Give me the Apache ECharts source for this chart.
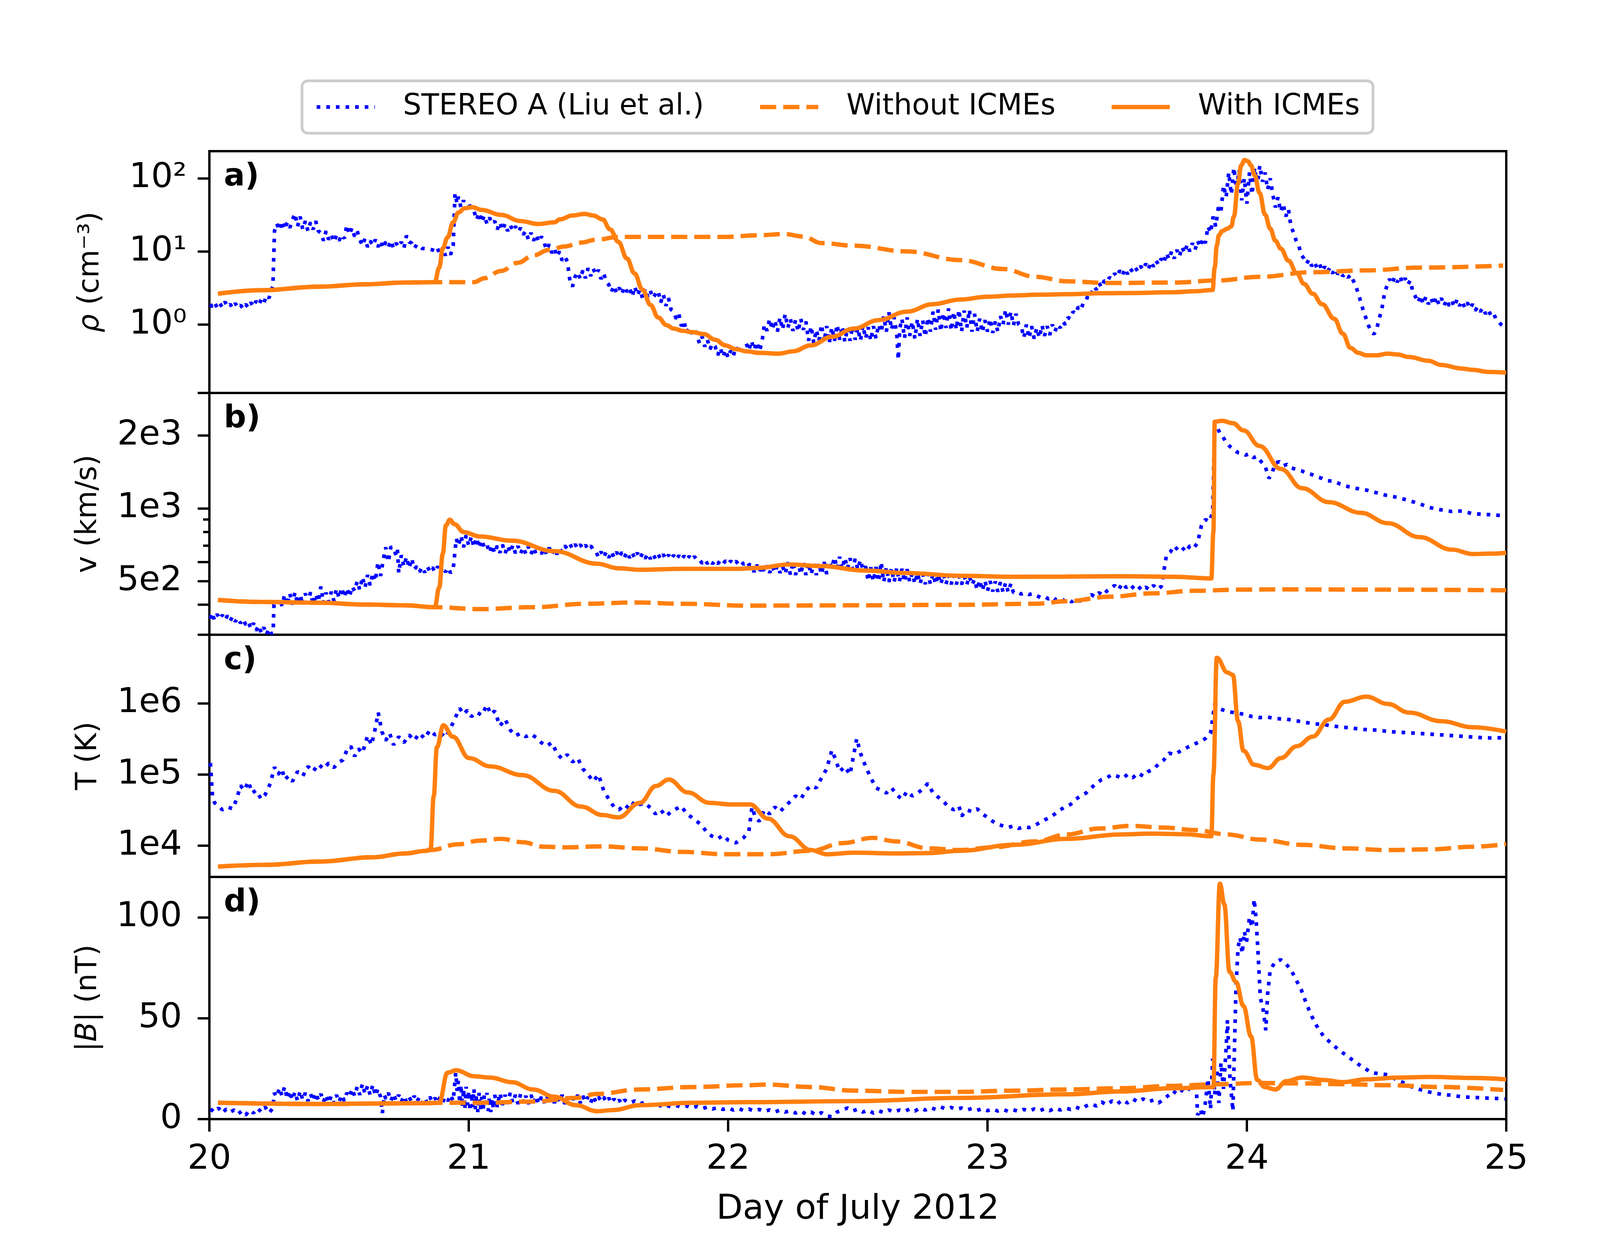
<!DOCTYPE html>
<html>
<head>
<meta charset="utf-8">
<script src="https://cdn.jsdelivr.net/npm/echarts@6/dist/echarts.min.js"></script>
<style>
  html, body { margin: 0; padding: 0; background: #fff; }
  #chart { width: 4287px; height: 3218px; }
</style>
</head>
<body>
<div id="chart"></div>
<script>
// values, x = day of July 2012

const dayTicks = [20, 21, 22, 23, 24, 25]
const rhoTicks = [1, 10, 100]
const vMajorTicks = [300, 400, 500, 600, 1000, 2000, 3000]
const vMinorTicks = [700, 800, 900]
const vLabelTicks = [500, 1000, 2000]
const tTicks = [1e4, 1e5, 1e6]
const bTicks = [0, 50, 100]

// a) density (cm^-3)
const rhoObs = [[20.004,1.9],[20.01,1.75],[20.02,2.0],[20.03,1.7],[20.04,1.95],[20.05,1.72],[20.06,2.05],[20.07,1.75],[20.08,1.9],[20.09,1.68],[20.1,1.95],[20.11,1.7],[20.12,1.85],[20.13,1.65],[20.14,1.9],[20.15,1.7],[20.16,2.0],[20.17,1.75],[20.18,2.1],[20.19,1.85],[20.2,2.2],[20.21,1.95],[20.22,2.5],[20.23,2.3],[20.24,3.0],[20.245,3.4],
  [20.251,19],[20.26,24],[20.27,19.5],[20.28,26],[20.29,20],[20.3,25],[20.31,21],[20.32,27],[20.33,33],[20.34,22],[20.35,30],[20.36,20],[20.37,26],[20.38,19],[20.39,25],[20.4,20],[20.41,26],[20.42,19],[20.43,18],[20.44,14],[20.45,19],[20.46,14.5],[20.47,17],[20.48,13.5],[20.49,16.5],[20.5,14],[20.51,17],[20.52,15],[20.53,23],[20.54,17],[20.55,21],[20.56,16],[20.57,19],[20.58,14.5],[20.59,12],[20.6,15],[20.61,11.5],[20.62,14],[20.63,12],[20.64,14.5],[20.65,11.5],[20.66,14],[20.67,11],[20.68,13.5],[20.69,11.5],[20.7,14],[20.71,11],[20.72,13],[20.73,11.5],[20.74,13.5],[20.75,11],[20.76,16.5],[20.77,13.5],[20.78,13],[20.79,11],[20.8,12.5],[20.82,11],[20.84,10.8],[20.86,10.5],[20.875,10],[20.88,11],[20.89,8.5],[20.9,10.5],[20.91,8.8],[20.92,11.5],[20.93,9],[20.94,12],
  [20.947,62],[20.955,45],[20.96,56],[20.97,40],[20.98,50],[20.99,38],[21.0,46],[21.01,37],[21.02,36],[21.03,27],[21.04,34],[21.05,25],[21.06,31],[21.07,24],[21.08,29],[21.09,24],[21.1,26],[21.11,20],[21.12,25],[21.13,19.5],[21.14,24],[21.15,19],[21.16,23],[21.17,19],[21.18,22],[21.19,18.5],[21.2,21],[21.21,17],[21.22,19],[21.23,14.5],[21.24,18],[21.25,14],[21.26,17],[21.27,13.5],[21.28,16],[21.29,13.5],[21.3,10.5],[21.31,12.5],[21.32,9.5],[21.33,11],[21.34,8.5],[21.35,10],[21.36,7.5],[21.37,8.5],[21.38,7.3],[21.39,4.0],[21.4,3.3],[21.41,4.5],[21.42,5.2],[21.43,4.2],[21.44,5.5],[21.45,4.3],[21.46,5.9],[21.47,4.6],[21.48,5.8],[21.49,4.8],[21.5,5.6],[21.51,4.2],[21.52,5.0],[21.53,3.9],[21.54,3.5],[21.55,2.8],[21.56,3.4],[21.57,2.7],[21.58,3.2],[21.59,2.6],[21.6,3.3],[21.61,2.8],[21.62,3.2],[21.63,2.4],[21.64,3.3],[21.65,2.5],[21.66,3.0],[21.67,2.3],[21.68,3.1],[21.69,2.4],[21.7,2.9],[21.71,2.3],[21.72,2.6],[21.73,2.9],[21.74,2.0],[21.75,2.6],[21.76,1.8],[21.77,2.3],[21.78,1.6],[21.79,1.5],[21.8,1.2],[21.81,1.4],[21.82,0.95],[21.83,1.1],[21.84,0.78],[21.85,0.9],[21.86,0.75],[21.87,0.88],[21.88,0.7],[21.89,0.55],[21.9,0.68],[21.91,0.5],[21.92,0.62],[21.93,0.46],[21.94,0.55],[21.95,0.5],[21.96,0.38],[21.97,0.48],[21.98,0.36],[21.99,0.45],[22.0,0.35],[22.01,0.44],[22.02,0.37],[22.03,0.5],[22.04,0.4],[22.05,0.48],[22.06,0.41],[22.07,0.55],[22.08,0.44],[22.09,0.6],[22.1,0.45],[22.11,0.58],[22.12,0.43],[22.13,0.56],
  [22.14,1.0],[22.15,0.82],[22.16,1.2],[22.17,0.85],[22.18,1.15],[22.19,0.8],[22.2,1.25],[22.21,0.85],[22.22,1.4],[22.23,0.9],[22.24,1.2],[22.25,0.82],[22.26,1.15],[22.27,0.8],[22.28,1.2],[22.29,0.85],[22.3,1.1],[22.31,0.6],[22.32,0.95],[22.33,0.56],[22.34,0.85],[22.35,0.6],[22.36,1.0],[22.37,0.58],[22.38,0.95],[22.39,0.56],[22.4,0.92],[22.41,0.6],[22.42,1.0],[22.43,0.62],[22.44,0.95],[22.45,0.58],[22.46,0.9],[22.47,0.6],[22.48,0.95],[22.49,0.62],[22.5,0.9],[22.51,0.6],[22.52,0.97],[22.53,0.64],[22.54,0.92],[22.55,0.6],[22.56,0.95],[22.57,0.65],[22.58,1.0],[22.59,0.78],[22.6,1.3],[22.61,0.8],[22.62,1.47],[22.63,0.85],[22.64,1.25],[22.65,0.76],[22.656,0.33],[22.662,0.9],[22.67,1.2],[22.68,0.65],[22.69,1.25],[22.7,0.7],[22.71,1.1],[22.72,0.64],[22.73,1.2],[22.74,0.7],[22.75,1.15],[22.76,0.68],[22.77,1.25],[22.78,0.8],[22.79,1.5],[22.8,0.85],[22.81,1.6],[22.82,0.8],[22.83,1.45],[22.84,0.9],[22.85,1.66],[22.86,0.82],[22.87,1.5],[22.88,0.85],[22.89,1.6],[22.9,0.8],[22.91,1.55],[22.92,0.9],[22.93,1.6],[22.94,0.8],[22.95,1.4],[22.96,0.8],[22.97,1.2],[22.98,0.78],[22.99,1.15],[23.0,0.8],[23.01,1.2],[23.02,0.77],[23.03,1.1],[23.04,0.8],[23.05,1.3],[23.06,1.0],[23.07,1.6],[23.08,1.0],[23.09,1.5],[23.1,0.97],[23.11,1.4],[23.12,1.0],[23.13,0.95],[23.14,0.66],[23.15,1.0],[23.16,0.65],[23.17,0.95],[23.18,0.64],[23.19,0.9],[23.2,0.66],[23.21,0.98],[23.22,0.7],[23.23,0.95],[23.24,0.72],[23.25,1.0],[23.26,0.8],[23.27,1.0],[23.28,0.9],[23.29,1.1],[23.3,1.0],[23.31,1.25],[23.32,1.2],[23.33,1.5],[23.34,1.4],[23.35,1.75],[23.36,1.6],[23.37,2.0],[23.38,2.1],[23.39,2.7],[23.4,2.6],[23.41,3.3],[23.42,3.0],[23.43,3.7],[23.44,3.2],[23.45,4.0],[23.46,3.8],[23.47,4.4],[23.48,4.2],[23.49,5.0],[23.5,4.5],[23.51,5.5],[23.52,4.7],[23.53,5.8],[23.54,4.9],[23.55,5.9],[23.56,5.2],[23.57,6.0],[23.58,5.3],[23.59,6.3],[23.6,5.6],[23.61,6.8],[23.62,5.7],[23.63,7.2],[23.64,6.2],[23.65,7.5],[23.66,6.5],[23.67,8.0],[23.68,7.0],[23.69,9.5],[23.7,7.8],[23.71,10],[23.72,8.0],[23.73,10.5],[23.74,8.5],[23.75,11.5],[23.76,9.5],[23.77,12.5],[23.78,10],[23.79,13],[23.8,10.5],[23.81,14],[23.82,11.5],[23.83,15],[23.84,13],
  [23.85,22],[23.86,18],[23.87,30],[23.88,22],[23.89,40],[23.9,35],[23.91,80],[23.92,55],[23.93,120],[23.94,60],[23.95,140],[23.96,70],[23.97,130],[23.98,50],[23.99,100],[24.0,45],[24.01,120],[24.02,60],[24.03,140],[24.04,80],[24.05,150],[24.06,90],[24.07,120],[24.08,70],[24.09,100],[24.1,60],[24.11,40],[24.12,55],[24.13,35],[24.14,45],[24.15,30],[24.16,38],[24.17,22],[24.18,18],[24.19,14],[24.2,12],[24.21,9],[24.22,8],[24.23,6.8],[24.24,7.8],[24.25,6.3],[24.26,7.2],[24.27,6.0],[24.28,6.8],[24.29,5.4],[24.3,6.2],[24.31,5.2],[24.32,6.0],[24.33,5.0],[24.34,5.8],[24.35,4.9],[24.36,5.3],[24.37,4.6],[24.38,5.0],[24.39,4.4],[24.4,4.8],[24.41,4.0],[24.42,3.4],[24.43,2.6],[24.44,2.0],[24.45,1.5],[24.46,1.2],[24.47,0.95],[24.48,0.8],[24.49,0.74],[24.5,0.85],[24.51,1.2],[24.52,1.6],[24.53,2.6],[24.54,3.4],[24.55,4.2],[24.56,3.6],[24.57,4.5],[24.58,3.8],[24.59,4.6],[24.6,3.7],[24.61,4.3],[24.62,3.5],[24.63,4.0],[24.64,2.8],[24.65,2.4],[24.66,2.0],[24.67,2.5],[24.68,1.9],[24.69,2.4],[24.7,1.9],[24.71,2.3],[24.72,1.85],[24.73,2.4],[24.74,1.9],[24.75,2.3],[24.76,1.8],[24.77,2.2],[24.78,1.8],[24.79,2.1],[24.8,1.75],[24.81,2.2],[24.82,1.8],[24.83,2.1],[24.84,1.7],[24.85,2.0],[24.86,1.65],[24.87,1.9],[24.88,1.55],[24.89,1.75],[24.9,1.5],[24.91,1.7],[24.92,1.4],[24.93,1.6],[24.94,1.35],[24.95,1.45],[24.96,1.2],[24.97,1.1],[24.98,1.0],[24.99,0.95],[24.998,0.9]]
const rhoNoIcme = [[20.033,2.64],[20.2,2.95],[20.424,3.3],[20.6,3.55],[20.75,3.75],[20.869,3.8],[21.021,3.8],[21.06,4.3],[21.124,5.4],[21.19,7],[21.248,8.8],[21.31,10.5],[21.371,11.7],[21.43,13.2],[21.495,14.5],[21.577,15.8],[21.742,15.8],[21.989,15.8],[22.113,16.6],[22.216,17.3],[22.29,16],[22.36,13],[22.484,12],[22.689,10],[22.895,7.6],[23.06,5.75],[23.184,4.5],[23.307,3.9],[23.472,3.7],[23.719,3.75],[23.884,4],[24.049,4.5],[24.254,5.2],[24.46,5.5],[24.666,6],[24.988,6.4]]
const rhoIcme = [[20.033,2.64],[20.2,2.95],[20.424,3.3],[20.6,3.55],[20.75,3.75],[20.869,3.8],[20.886,6],[20.9,11],[20.918,15.5],[20.94,25],[20.96,34],[20.985,39],[21.013,40.3],[21.05,37],[21.124,31.6],[21.2,26],[21.269,23.7],[21.33,25],[21.351,27.4],[21.4,31],[21.446,32.6],[21.48,31],[21.516,27.4],[21.545,20],[21.577,13.5],[21.61,8],[21.639,5],[21.67,3],[21.701,1.85],[21.73,1.25],[21.763,0.98],[21.79,0.88],[21.825,0.82],[21.86,0.79],[21.907,0.74],[21.95,0.62],[21.989,0.52],[22.03,0.46],[22.072,0.43],[22.12,0.41],[22.195,0.4],[22.25,0.43],[22.319,0.52],[22.4,0.68],[22.484,0.88],[22.58,1.15],[22.689,1.5],[22.79,1.9],[22.895,2.2],[23.0,2.4],[23.101,2.5],[23.2,2.56],[23.307,2.6],[23.45,2.68],[23.554,2.7],[23.719,2.77],[23.8,2.85],[23.868,2.97],[23.876,6],[23.884,12],[23.892,16.6],[23.905,19],[23.925,20.5],[23.94,22],[23.95,30],[23.966,85],[23.978,150],[23.991,178],[24.005,170],[24.016,150],[24.03,110],[24.049,63],[24.07,32],[24.09,20.5],[24.11,14],[24.131,10.9],[24.16,7.5],[24.193,5],[24.22,3.6],[24.254,2.64],[24.29,1.9],[24.337,1.2],[24.37,0.75],[24.399,0.48],[24.43,0.41],[24.46,0.38],[24.5,0.38],[24.543,0.4],[24.58,0.39],[24.625,0.36],[24.7,0.32],[24.749,0.28],[24.83,0.25],[24.872,0.24],[24.93,0.225],[25.0,0.22]]

// b) speed (km/s)
const vObs = [[20.004,350],[20.01,370],[20.02,345],[20.03,365],[20.04,348],[20.05,362],[20.06,345],[20.07,360],[20.08,342],[20.09,358],[20.1,340],[20.11,352],[20.12,335],[20.13,348],[20.14,330],[20.15,340],[20.16,318],[20.17,335],[20.18,312],[20.19,328],[20.2,305],[20.21,322],[20.22,300],[20.23,318],[20.24,302],[20.246,310],
  [20.249,400],[20.255,420],[20.26,392],[20.27,423],[20.28,395],[20.29,440],[20.3,398],[20.31,445],[20.32,400],[20.33,450],[20.34,402],[20.35,440],[20.36,398],[20.37,445],[20.38,405],[20.39,450],[20.4,400],[20.41,442],[20.42,410],[20.43,475],[20.44,405],[20.45,448],[20.46,410],[20.47,452],[20.48,415],[20.49,465],[20.5,425],[20.51,470],[20.52,428],[20.53,468],[20.54,430],[20.55,475],[20.56,455],[20.57,500],[20.58,460],[20.59,520],[20.6,470],[20.61,530],[20.62,480],[20.63,541],[20.64,500],[20.65,600],[20.66,525],[20.67,610],[20.68,690],[20.69,600],[20.7,695],[20.71,680],[20.72,640],[20.725,675],[20.73,540],[20.74,640],[20.75,575],[20.76,630],[20.77,565],[20.78,620],[20.79,560],[20.8,575],[20.81,545],[20.82,572],[20.83,543],[20.84,575],[20.85,548],[20.86,570],[20.87,545],[20.88,575],[20.89,542],[20.9,572],[20.91,545],[20.92,568],[20.93,540],[20.94,560],
  [20.946,650],[20.952,750],[20.96,700],[20.97,770],[20.98,690],[20.99,774],[21.0,700],[21.01,765],[21.02,690],[21.03,755],[21.04,685],[21.05,740],[21.06,690],[21.07,710],[21.08,655],[21.09,705],[21.1,652],[21.11,700],[21.12,655],[21.13,708],[21.14,651],[21.15,700],[21.16,655],[21.17,705],[21.18,652],[21.19,698],[21.2,650],[21.21,690],[21.22,648],[21.23,693],[21.24,646],[21.25,688],[21.26,645],[21.27,690],[21.28,647],[21.29,685],[21.3,645],[21.31,688],[21.32,646],[21.33,683],[21.34,645],[21.35,680],[21.36,660],[21.37,700],[21.38,682],[21.39,712],[21.4,680],[21.41,710],[21.42,682],[21.43,708],[21.44,680],[21.45,705],[21.46,678],[21.47,700],[21.48,675],[21.49,665],[21.5,628],[21.51,662],[21.52,626],[21.53,660],[21.54,625],[21.55,663],[21.56,627],[21.57,660],[21.58,625],[21.59,658],[21.6,626],[21.61,660],[21.62,624],[21.63,656],[21.64,622],[21.65,655],[21.66,620],[21.67,652],[21.68,620],[21.69,650],[21.7,618],[21.71,648],[21.72,618],[21.73,646],[21.74,617],[21.75,645],[21.76,616],[21.77,642],[21.78,615],[21.79,640],[21.8,614],[21.81,638],[21.82,613],[21.83,636],[21.84,612],[21.85,634],[21.86,612],[21.87,632],[21.88,610],[21.89,612],[21.9,592],[21.91,612],[21.92,591],[21.93,610],[21.94,590],[21.95,610],[21.96,590],[21.97,608],[21.98,589],[21.99,607],[22.0,588],[22.01,606],[22.02,588],[22.03,605],[22.04,587],[22.05,604],[22.06,586],[22.07,603],[22.08,585],[22.09,583],[22.1,545],[22.11,585],[22.12,543],[22.13,582],[22.14,542],[22.15,580],[22.16,541],[22.17,578],[22.18,542],[22.19,580],[22.2,541],[22.21,576],[22.22,535],[22.23,598],[22.24,532],[22.25,600],[22.26,530],[22.27,596],[22.28,533],[22.29,598],[22.3,530],[22.31,595],[22.32,532],[22.33,590],[22.34,530],[22.35,594],[22.36,532],[22.37,600],[22.38,535],[22.39,605],[22.4,565],[22.41,628],[22.42,562],[22.43,630],[22.44,560],[22.45,625],[22.46,562],[22.47,622],[22.48,560],[22.49,618],[22.5,558],[22.51,612],[22.52,556],[22.53,575],[22.54,500],[22.55,570],[22.56,498],[22.57,572],[22.58,497],[22.59,600],[22.6,495],[22.61,570],[22.62,496],[22.63,565],[22.64,495],[22.65,568],[22.66,497],[22.67,562],[22.68,495],[22.69,560],[22.7,496],[22.71,540],[22.72,488],[22.73,541],[22.74,487],[22.75,538],[22.76,486],[22.77,537],[22.78,486],[22.79,536],[22.8,485],[22.81,535],[22.82,485],[22.83,534],[22.84,486],[22.85,532],[22.86,485],[22.87,530],[22.88,485],[22.89,528],[22.9,484],[22.91,526],[22.92,483],[22.93,524],[22.94,482],[22.95,508],[22.96,460],[22.97,505],[22.98,456],[22.99,502],[23.0,455],[23.01,500],[23.02,453],[23.03,498],[23.04,452],[23.05,495],[23.06,450],[23.07,492],[23.08,450],[23.09,488],[23.1,448],
  [23.115,450],[23.13,442],[23.145,448],[23.16,440],[23.175,444],[23.19,435],[23.205,428],[23.22,432],[23.235,422],[23.25,430],[23.265,418],[23.28,426],[23.295,415],[23.31,422],[23.325,410],[23.34,425],[23.355,412],[23.37,428],[23.385,418],[23.4,440],[23.415,430],[23.43,448],[23.445,436],[23.46,455],[23.475,465],[23.49,480],[23.505,460],[23.52,490],[23.535,470],[23.55,485],[23.565,465],[23.58,478],[23.595,458],[23.61,472],[23.625,460],[23.64,480],[23.655,462],[23.67,475],[23.69,640],[23.705,660],[23.72,700],[23.735,670],[23.75,690],[23.765,660],[23.78,700],[23.795,685],[23.81,720],[23.825,850],[23.84,900],[23.855,880],[23.868,960],[23.876,2290],[23.884,2200],[23.895,2050],[23.905,2000],[23.92,1870],[23.935,1800],[23.95,1750],[23.965,1700],[23.98,1690],[23.995,1660],[24.01,1680],[24.025,1620],[24.04,1640],[24.055,1560],[24.07,1500],[24.085,1330],[24.095,1380],[24.11,1540],[24.125,1560],[24.14,1500],[24.155,1520],[24.17,1470],[24.19,1450],[24.21,1430],[24.23,1400],[24.25,1380],[24.27,1350],[24.29,1330],[24.31,1300],[24.337,1295],[24.36,1260],[24.39,1230],[24.42,1210],[24.46,1190],[24.5,1160],[24.54,1130],[24.58,1110],[24.62,1080],[24.666,1045],[24.7,1010],[24.75,985],[24.79,970],[24.83,975],[24.87,950],[24.91,945],[24.95,940],[24.996,930]]
const vNoIcme = [[20.033,418],[20.2,410],[20.424,407],[20.6,400],[20.754,397],[20.869,390],[21.042,383],[21.248,390],[21.454,403],[21.639,408],[21.825,403],[22.072,396],[22.484,397],[22.895,399],[23.184,403],[23.307,413],[23.472,431],[23.637,445],[23.801,456],[23.966,461],[24.131,462],[24.543,461],[25.0,458]]
const vIcme = [[20.033,418],[20.2,410],[20.424,407],[20.6,400],[20.754,397],[20.869,390],[20.886,470],[20.9,650],[20.912,850],[20.927,897],[20.945,860],[20.98,798],[21.042,765],[21.166,735],[21.33,665],[21.495,590],[21.577,565],[21.66,557],[21.825,562],[22.03,562],[22.113,567],[22.236,586],[22.36,577],[22.525,553],[22.689,540],[22.895,526],[23.101,521],[23.307,522],[23.513,524],[23.719,521],[23.863,513],[23.871,800],[23.876,2280],[23.904,2300],[23.946,2250],[23.987,2100],[24.049,1810],[24.131,1455],[24.213,1211],[24.316,1060],[24.44,958],[24.543,868],[24.666,760],[24.79,675],[24.872,647],[24.95,650],[25.0,655]]

// c) temperature (K)
const tObs = [[20.004,1.45e5],[20.012,5e4],[20.02,4e4],[20.035,3.6e4],[20.05,3.2e4],[20.07,3.5e4],[20.09,3.3e4],[20.105,4.5e4],[20.12,7e4],[20.135,6e4],[20.15,8e4],[20.165,5.5e4],[20.18,6e4],[20.2,4.5e4],[20.215,5.2e4],[20.235,7.5e4],[20.251,1.27e5],[20.265,1.0e5],[20.28,1.2e5],[20.29,8.5e4],[20.305,9.5e4],[20.32,8e4],[20.34,1.1e5],[20.36,9.5e4],[20.38,1.3e5],[20.4,1.1e5],[20.42,1.4e5],[20.44,1.2e5],[20.46,1.45e5],[20.48,1.25e5],[20.5,1.5e5],[20.515,1.6e5],[20.53,2.2e5],[20.545,2.5e5],[20.56,1.8e5],[20.575,2.3e5],[20.59,2.0e5],[20.61,3.5e5],[20.625,2.6e5],[20.64,4.5e5],[20.651,7.4e5],[20.665,4e5],[20.68,3e5],[20.695,3.8e5],[20.71,2.6e5],[20.73,3.4e5],[20.75,2.8e5],[20.77,3.6e5],[20.79,3.0e5],[20.81,3.8e5],[20.83,3.2e5],[20.85,4.2e5],[20.87,3.6e5],[20.89,3.9e5],[20.91,3.3e5],[20.93,4.5e5],[20.95,6.5e5],[20.965,8.5e5],[20.98,7e5],[20.995,8e5],[21.01,6.5e5],[21.03,7.5e5],[21.05,6.8e5],[21.07,9.5e5],[21.085,7e5],[21.1,7.8e5],[21.12,4.8e5],[21.14,6e5],[21.16,4.2e5],[21.18,3.5e5],[21.2,3.8e5],[21.22,3.4e5],[21.24,3.7e5],[21.26,3.3e5],[21.28,2.8e5],[21.3,2.5e5],[21.32,2.8e5],[21.34,2.0e5],[21.36,1.65e5],[21.38,1.9e5],[21.4,1.5e5],[21.42,1.7e5],[21.44,1.2e5],[21.46,1.0e5],[21.48,8e4],[21.5,1.0e5],[21.52,6e4],[21.54,4.5e4],[21.56,3.5e4],[21.58,3.2e4],[21.6,3.8e4],[21.62,3.3e4],[21.64,4.2e4],[21.66,3.8e4],[21.68,4e4],[21.7,3.4e4],[21.72,2.8e4],[21.74,3.2e4],[21.76,2.6e4],[21.78,3.0e4],[21.8,3.3e4],[21.82,3.6e4],[21.84,2.8e4],[21.86,2.5e4],[21.88,2.2e4],[21.9,1.9e4],[21.92,1.5e4],[21.94,1.35e4],[21.96,1.25e4],[21.98,1.4e4],[22.0,1.2e4],[22.03,1.1e4],[22.06,1.3e4],[22.08,1.6e4],[22.092,3.5e4],[22.105,2.5e4],[22.12,2.2e4],[22.14,3.2e4],[22.16,2.8e4],[22.18,3.5e4],[22.2,3e4],[22.22,3.6e4],[22.24,4.2e4],[22.26,5e4],[22.28,4.5e4],[22.3,6e4],[22.32,7e4],[22.34,6.5e4],[22.36,9e4],[22.38,1.2e5],[22.4,2.2e5],[22.415,1.6e5],[22.43,1.1e5],[22.45,1.3e5],[22.47,1.0e5],[22.496,3.2e5],[22.51,2.0e5],[22.53,1.3e5],[22.55,9e4],[22.57,6.5e4],[22.59,6e4],[22.61,5.5e4],[22.63,6.5e4],[22.65,5.2e4],[22.67,4.5e4],[22.69,5.8e4],[22.71,5e4],[22.73,5.5e4],[22.75,6.2e4],[22.77,7.5e4],[22.79,5.5e4],[22.81,4.8e4],[22.83,4.2e4],[22.85,3.5e4],[22.87,3.2e4],[22.89,3.6e4],[22.9,2.6e4],[22.92,3.2e4],[22.94,3.0e4],[22.96,3.3e4],[22.98,2.8e4],[23.0,2.5e4],[23.02,2.2e4],[23.04,2.0e4],[23.06,1.9e4],[23.08,1.8e4],[23.1,1.9e4],[23.12,1.75e4],[23.14,1.85e4],[23.16,1.8e4],[23.18,1.9e4],[23.2,2.1e4],[23.22,2.3e4],[23.24,2.5e4],[23.26,2.8e4],[23.28,3.2e4],[23.3,3.5e4],[23.32,3.8e4],[23.34,4.5e4],[23.36,5e4],[23.38,5.5e4],[23.4,6.5e4],[23.42,7.5e4],[23.44,8.5e4],[23.46,9e4],[23.48,1.0e5],[23.5,9.5e4],[23.52,8.8e4],[23.54,1.0e5],[23.56,9e4],[23.58,1.05e5],[23.6,9.5e4],[23.62,1.1e5],[23.64,1.2e5],[23.66,1.4e5],[23.68,1.6e5],[23.7,2.0e5],[23.72,1.9e5],[23.74,2.1e5],[23.76,2.3e5],[23.78,2.5e5],[23.8,2.7e5],[23.82,2.9e5],[23.84,3.2e5],[23.86,3.8e5],[23.876,9.8e5],[23.89,8.5e5],[23.91,8e5],[23.93,7.6e5],[23.96,7.3e5],[23.99,7e5],[24.02,6.5e5],[24.05,6.3e5],[24.08,6.4e5],[24.11,6.1e5],[24.15,6e5],[24.2,5.6e5],[24.25,5.2e5],[24.3,5e5],[24.35,4.7e5],[24.4,4.5e5],[24.45,4.3e5],[24.5,4.2e5],[24.55,4.0e5],[24.6,3.9e5],[24.65,3.8e5],[24.7,3.7e5],[24.75,3.6e5],[24.8,3.5e5],[24.85,3.4e5],[24.9,3.3e5],[24.95,3.25e5],[24.996,3.3e5]]
const tNoIcme = [[20.033,5.1e3],[20.218,5.4e3],[20.424,6e3],[20.63,6.9e3],[20.754,7.8e3],[20.836,8.5e3],[20.853,8.7e3],[20.96,1.05e4],[21.042,1.18e4],[21.124,1.25e4],[21.207,1.12e4],[21.289,9.7e3],[21.371,9.5e3],[21.516,9.8e3],[21.66,9.2e3],[21.825,8.2e3],[21.989,7.6e3],[22.154,7.6e3],[22.319,8.5e3],[22.442,1.09e4],[22.558,1.29e4],[22.648,1.15e4],[22.772,9.2e3],[22.895,8.7e3],[23.019,9.5e3],[23.184,1.15e4],[23.307,1.44e4],[23.431,1.75e4],[23.554,1.9e4],[23.678,1.8e4],[23.801,1.66e4],[23.925,1.44e4],[24.049,1.22e4],[24.213,1.03e4],[24.378,9.2e3],[24.543,8.7e3],[24.708,8.9e3],[24.872,9.7e3],[25.0,1.06e4]]
const tIcme = [[20.033,5.1e3],[20.218,5.4e3],[20.424,6e3],[20.63,6.9e3],[20.754,7.8e3],[20.836,8.5e3],[20.853,9e3],[20.865,5e4],[20.877,2.4e5],[20.902,4.9e5],[20.939,3.4e5],[21.001,1.7e5],[21.083,1.3e5],[21.207,9.8e4],[21.33,5.9e4],[21.433,3.55e4],[21.516,2.7e4],[21.577,2.5e4],[21.66,4e4],[21.722,6.9e4],[21.771,8.5e4],[21.845,5.6e4],[21.928,4e4],[22.01,3.8e4],[22.084,3.8e4],[22.154,2.4e4],[22.236,1.36e4],[22.319,8.7e3],[22.381,7.6e3],[22.484,8e3],[22.648,7.8e3],[22.772,7.9e3],[22.895,8.5e3],[23.101,1.03e4],[23.307,1.25e4],[23.513,1.44e4],[23.637,1.48e4],[23.76,1.45e4],[23.863,1.36e4],[23.871,1e5],[23.884,4.35e6],[23.925,2.7e6],[23.946,2.5e6],[23.966,5.6e5],[23.987,2.15e5],[24.028,1.37e5],[24.082,1.23e5],[24.131,1.7e5],[24.193,2.5e5],[24.254,3.4e5],[24.316,5.9e5],[24.378,1.05e6],[24.46,1.24e6],[24.543,9.8e5],[24.625,7.4e5],[24.749,5.6e5],[24.872,4.6e5],[25.0,4e5]]

// d) |B| (nT)
const bObs = [[20.004,5],[20.02,3.5],[20.035,5.5],[20.05,3],[20.065,5],[20.08,3.5],[20.095,4.5],[20.11,2.5],[20.125,4],[20.14,2],[20.155,4.5],[20.17,3],[20.185,5.5],[20.2,3.5],[20.215,6],[20.23,3],[20.245,5.5],
  [20.25,13],[20.26,11],[20.27,15.5],[20.28,11.5],[20.29,16],[20.3,10],[20.31,14],[20.32,9.5],[20.33,13.5],[20.34,9],[20.35,14],[20.36,9.5],[20.37,13],[20.38,9],[20.39,12.5],[20.4,9],[20.41,13],[20.42,9.5],[20.43,12.5],[20.44,8.5],[20.45,12],[20.46,8],[20.47,11.5],[20.48,8],[20.49,12],[20.5,8.5],[20.51,12],[20.52,9],[20.53,13],[20.54,11],[20.55,15],[20.56,11.5],[20.57,16],[20.58,12],[20.59,17.5],[20.6,12.5],[20.61,16.5],[20.62,12],[20.63,17],[20.64,11.5],[20.65,15],[20.66,11],[20.667,3],[20.675,12],[20.68,10],[20.69,13],[20.7,9],[20.71,12.5],[20.72,9],[20.73,12],[20.74,8.5],[20.75,11.5],[20.76,8.5],[20.77,11],[20.78,8.5],[20.79,11.5],[20.8,8.5],[20.81,11],[20.82,8],[20.83,10.5],[20.84,8],[20.85,11],[20.86,8.5],[20.87,10.5],[20.88,8],[20.89,11],[20.9,8.5],[20.91,11],[20.92,9],[20.93,12],[20.94,9],
  [20.95,23],[20.955,14],[20.96,19],[20.965,8],[20.97,17],[20.975,6],[20.98,15],[20.985,5],[20.99,16],[20.995,7],[21.0,14],[21.005,4],[21.01,13],[21.015,6],[21.02,15],[21.025,5],[21.03,12],[21.035,3.5],[21.04,13],[21.045,5],[21.05,11],[21.055,4],[21.06,12],[21.065,6],[21.07,13],[21.075,4],[21.08,11],[21.085,3.5],[21.09,10],[21.095,5],[21.1,12],[21.11,6],[21.12,13],[21.13,7],[21.14,12],[21.15,7.5],[21.16,13],[21.17,8],[21.18,12],[21.19,7.5],[21.2,12.5],[21.21,8],[21.22,11.5],[21.23,7.5],[21.24,12],[21.25,8],[21.26,11.5],[21.27,7.5],[21.28,11],[21.29,8],[21.3,12],[21.31,8.5],[21.32,11.5],[21.33,8],[21.34,11],[21.35,8.5],[21.36,12],[21.37,7.5],[21.38,11],[21.39,8],[21.4,12.5],[21.41,8.5],[21.42,12],[21.43,8],[21.44,11.5],[21.45,8.5],[21.46,11],[21.47,8],[21.48,11.5],[21.49,8.5],[21.5,11],[21.51,9],[21.52,11],[21.53,8.5],[21.54,10.5],[21.55,8],[21.56,10],[21.57,8],[21.58,9.5],[21.59,7.5],[21.6,9.5],
  [21.62,8],[21.64,9],[21.66,7.5],[21.68,8.5],[21.7,7],[21.72,7.8],[21.74,6.5],[21.76,7],[21.78,6],[21.8,6.8],[21.82,5.8],[21.84,6.5],[21.86,5.5],[21.88,6.3],[21.9,5.2],[21.92,6],[21.94,5],[21.96,5.8],[21.98,4.8],[22.0,5.5],[22.02,4.5],[22.04,5.3],[22.06,4.2],[22.08,5],[22.1,4],[22.12,4.8],[22.14,3.8],[22.16,4.6],[22.18,3.5],[22.2,4.5],[22.22,3.5],[22.24,4.2],[22.26,3],[22.28,4],[22.3,2.5],[22.32,3.5],[22.34,2],[22.36,3.2],[22.38,1.5],[22.4,1.2],[22.42,3.5],[22.44,4.5],[22.46,5.5],[22.48,4],[22.5,5],[22.52,3.5],[22.54,4.5],[22.56,3],[22.58,4.2],[22.6,3.2],[22.62,4.5],[22.64,3.5],[22.66,4.5],[22.68,3.8],[22.7,5],[22.72,4],[22.74,5.5],[22.76,4.5],[22.78,5.8],[22.8,4.8],[22.82,6],[22.84,5],[22.86,5.8],[22.88,4.8],[22.9,5.5],[22.92,4.5],[22.94,5.3],[22.96,4.3],[22.98,5.2],[23.0,4.2],[23.02,5],[23.04,4],[23.06,4.8],[23.08,3.8],[23.1,4.6],[23.12,3.8],[23.14,4.8],[23.16,4],[23.18,5],[23.2,4],[23.22,5.2],[23.24,4.2],[23.26,5.5],[23.28,4.5],[23.3,5.5],[23.32,4.8],[23.34,6],[23.36,5],[23.38,6.5],[23.4,7.5],[23.42,6.5],[23.44,8.5],[23.46,7],[23.48,9],[23.5,7.5],[23.52,9.5],[23.54,8],[23.56,10],[23.58,8.5],[23.6,10],[23.62,8.5],[23.64,9.5],[23.66,8],[23.68,10],[23.7,12],[23.715,14],[23.73,12.5],[23.745,14.5],[23.76,13],[23.775,15],[23.79,14],[23.805,16],
  [23.81,2],[23.82,5],[23.83,1],[23.84,8],[23.85,20],[23.86,5],[23.868,30],[23.876,12],[23.884,25],[23.892,8],[23.9,28],[23.91,15],[23.92,35],[23.925,49],[23.935,20],[23.946,4],[23.958,65],[23.966,85],[23.974,90],[23.982,82],[23.99,93],[23.999,88],[24.01,100],[24.02,95],[24.028,109],[24.035,100],[24.042,85],[24.052,60],[24.062,55],[24.073,44],[24.08,62],[24.09,74],[24.1,76],[24.11,78],[24.13,79],[24.15,77],[24.17,74],[24.19,69],[24.21,64],[24.23,57],[24.25,51],[24.27,46],[24.296,41],[24.33,37],[24.357,34],[24.39,31],[24.42,28],[24.45,25.5],[24.481,23],[24.51,22.5],[24.543,22],[24.57,20],[24.605,18],[24.635,16],[24.666,14.7],[24.7,13.5],[24.749,12.3],[24.79,11.8],[24.831,11],[24.87,10.8],[24.913,10.5],[24.95,10.3],[24.996,10]]
const bNoIcme = [[20.033,8.1],[20.424,7.5],[20.836,7.9],[20.886,8.1],[21.042,8.1],[21.248,8.7],[21.413,10.5],[21.495,12.5],[21.66,14.7],[21.866,15.9],[22.072,16.8],[22.154,17.1],[22.319,15.9],[22.484,14.1],[22.689,13.5],[22.895,13.5],[23.101,14.1],[23.307,14.7],[23.513,15.3],[23.719,16.5],[23.884,17.3],[24.049,17.9],[24.213,17.7],[24.378,17.3],[24.543,16.8],[24.749,15.9],[24.988,14.4]]
const bIcme = [[20.033,8.1],[20.424,7.5],[20.836,7.9],[20.886,8.1],[20.918,23],[20.951,24.2],[21.021,21.2],[21.083,20.6],[21.166,18.3],[21.248,14.7],[21.33,11.1],[21.413,6.9],[21.495,3.9],[21.557,4.5],[21.66,6.9],[21.866,8.1],[22.072,8.4],[22.484,8.9],[22.895,10.5],[23.307,12.3],[23.513,13.7],[23.719,15.3],[23.871,15.9],[23.88,70],[23.896,116.7],[23.913,106.5],[23.933,73],[23.958,68],[23.987,56],[24.016,41],[24.04,19.4],[24.069,15.9],[24.11,14.7],[24.152,18.8],[24.213,20.6],[24.296,19.4],[24.37,18.3],[24.46,19.7],[24.584,20.6],[24.708,20.9],[24.872,20.4],[25.0,19.7]]

const FONT = 'DejaVu Sans'
const BLUE = '#0000ff'
const ORANGE = '#ff7f0e'
const NAMES = ['STEREO A (Liu et al.)', 'Without ICMEs', 'With ICMEs']
const OBS_STYLE = { color: BLUE, width: 9.3, type: [9.3, 15.3] }
const NO_STYLE = { color: ORANGE, width: 11.2, type: [41.4, 17.9] }
const ICME_STYLE = { color: ORANGE, width: 11.2, type: 'solid' }
// legend draws a marker in the middle of the line sample, keep it invisible
const NO_MARKER = { color: 'rgba(0,0,0,0)', borderColor: 'rgba(0,0,0,0)', borderWidth: 0, opacity: 0 }

const gridTops = [387, 1006, 1625, 2245]
const gridHeights = [619, 619, 620, 620]
const panelLabels = ['a)', 'b)', 'c)', 'd)']

const supDigits = { 0: '\u2070', 1: '\u00B9', 2: '\u00B2' }

const tick = (len) => ({ show: true, length: len, lineStyle: { color: '#000', width: 6 } })
const label = (extra) => Object.assign({ color: '#000', fontSize: 88, fontFamily: FONT, margin: 66 }, extra)
const yName = (gap) => ({
  nameLocation: 'middle', nameRotate: 90, nameGap: gap,
  nameTextStyle: { color: '#000', fontSize: 74, fontFamily: FONT,
    rich: { i: { fontStyle: 'italic', fontSize: 74, fontFamily: FONT, color: '#000' } } }
})

const chart = echarts.init(document.getElementById('chart'), null, { renderer: 'canvas' })

const grid = gridTops.map((top, i) => ({
  left: 536, width: 3320, top, height: gridHeights[i],
  show: true, borderColor: '#000', borderWidth: 6, backgroundColor: 'transparent'
}))

const xAxis = gridTops.map((_, i) => {
  const ax = {
    gridIndex: i, type: 'value', min: 20, max: 25, interval: 1,
    axisLine: { show: false }, splitLine: { show: false }
  }
  if (i < 3) {
    ax.axisTick = { show: false }
    ax.axisLabel = { show: false }
  } else {
    ax.axisTick = tick(32)
    ax.axisLabel = label({ margin: 60, customValues: dayTicks })
    ax.name = 'Day of July 2012'
    ax.nameLocation = 'middle'
    ax.nameGap = 188
    ax.nameTextStyle = { color: '#000', fontSize: 88, fontFamily: FONT }
  }
  return ax
})

const yAxis = [
  Object.assign({
    gridIndex: 0, type: 'log', logBase: 10, min: 0.116, max: 235, position: 'left',
    name: '{i|\u03C1} (cm\u207B\u00B3)',
    axisLine: { show: false }, splitLine: { show: false },
    axisTick: Object.assign(tick(30), { customValues: rhoTicks }),
    axisLabel: label({ margin: 58, customValues: rhoTicks,
      formatter: v => '10' + supDigits[Math.round(Math.log10(v))] })
  }, yName(266)),
  Object.assign({
    gridIndex: 1, type: 'log', logBase: 10, min: 300, max: 3000, position: 'left',
    name: 'v (km/s)',
    axisLine: { show: false }, splitLine: { show: false },
    axisTick: Object.assign(tick(30), { customValues: vMajorTicks }),
    axisLabel: label({ margin: 70, customValues: vLabelTicks,
      formatter: v => (v / Math.pow(10, Math.floor(Math.log10(v)))).toFixed(0) + 'e' + Math.floor(Math.log10(v)) })
  }, yName(272)),
  {
    // shorter minor ticks of panel b, same side as the main axis
    gridIndex: 1, type: 'log', logBase: 10, min: 300, max: 3000, position: 'left', offset: 0,
    axisLine: { show: false }, splitLine: { show: false },
    axisTick: Object.assign(tick(16), { customValues: vMinorTicks }),
    axisLabel: { show: false }
  },
  Object.assign({
    gridIndex: 2, type: 'log', logBase: 10, min: 3650, max: 9.16e6, position: 'left',
    name: 'T (K)',
    axisLine: { show: false }, splitLine: { show: false },
    axisTick: Object.assign(tick(30), { customValues: tTicks }),
    axisLabel: label({ margin: 70, customValues: tTicks,
      formatter: v => '1e' + Math.round(Math.log10(v)) })
  }, yName(272)),
  Object.assign({
    gridIndex: 3, type: 'value', min: 0, max: 120, position: 'left',
    name: '|{i|B}| (nT)',
    axisLine: { show: false }, splitLine: { show: false },
    axisTick: Object.assign(tick(30), { customValues: bTicks }),
    axisLabel: label({ margin: 70, customValues: bTicks })
  }, yName(272))
]

const panels = [
  { obs: rhoObs, no: rhoNoIcme, icme: rhoIcme, y: 0 },
  { obs: vObs, no: vNoIcme, icme: vIcme, y: 1 },
  { obs: tObs, no: tNoIcme, icme: tIcme, y: 3 },
  { obs: bObs, no: bNoIcme, icme: bIcme, y: 4 }
]

const lineBase = {
  type: 'line', symbol: 'none', showSymbol: false, animation: false,
  silent: true, emphasis: { disabled: true }, clip: true
}

const series = []
panels.forEach((p, i) => {
  series.push(Object.assign({}, lineBase, {
    name: NAMES[0], xAxisIndex: i, yAxisIndex: p.y, data: p.obs,
    lineStyle: OBS_STYLE, itemStyle: { color: BLUE }, z: 2
  }))
  series.push(Object.assign({}, lineBase, {
    name: NAMES[1], xAxisIndex: i, yAxisIndex: p.y, data: p.no,
    smooth: 0.4, smoothMonotone: 'x',
    lineStyle: NO_STYLE, itemStyle: { color: ORANGE }, z: 3
  }))
  series.push(Object.assign({}, lineBase, {
    name: NAMES[2], xAxisIndex: i, yAxisIndex: p.y, data: p.icme,
    smooth: 0.4, smoothMonotone: 'x',
    lineStyle: ICME_STYLE, itemStyle: { color: ORANGE }, z: 4
  }))
})

const option = {
  backgroundColor: '#fff',
  animation: false,
  title: panelLabels.map((t, i) => ({
    text: t, left: 573, top: gridTops[i] + 27, padding: 0,
    textStyle: { fontSize: 80, fontWeight: 'bold', fontFamily: FONT, color: '#000' }
  })),
  legend: {
    left: 'center', top: 207, orient: 'horizontal',
    itemWidth: 149, itemHeight: 74, itemGap: 138,
    padding: [30, 34, 30, 33],
    backgroundColor: 'rgba(255,255,255,0.8)',
    borderColor: '#cccccc', borderWidth: 7, borderRadius: 15,
    selectedMode: false,
    textStyle: { fontSize: 74, fontFamily: FONT, color: '#000', padding: [0, 0, 0, 67] },
    data: [
      { name: NAMES[0], lineStyle: OBS_STYLE, itemStyle: NO_MARKER },
      { name: NAMES[1], lineStyle: NO_STYLE, itemStyle: NO_MARKER },
      { name: NAMES[2], lineStyle: ICME_STYLE, itemStyle: NO_MARKER }
    ]
  },
  grid, xAxis, yAxis, series
}

chart.setOption(option)
</script>
</body>
</html>
